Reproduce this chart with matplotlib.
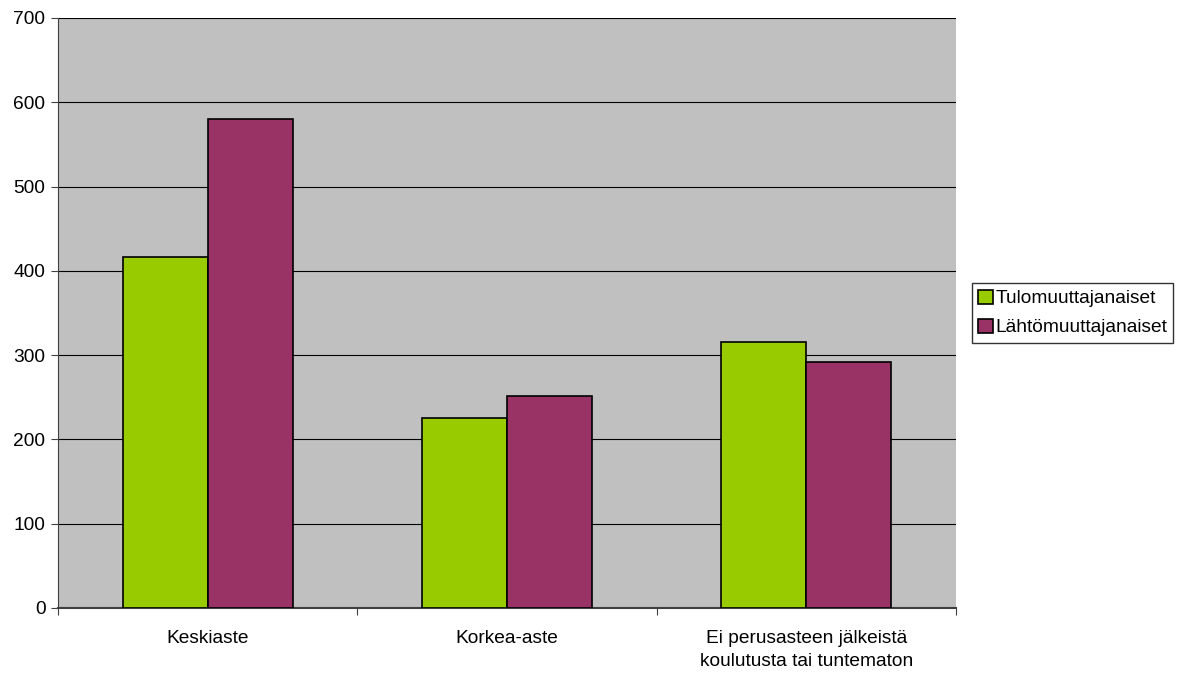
import matplotlib
matplotlib.use("Agg")
import matplotlib.pyplot as plt
import numpy as np

categories = ["Keskiaste", "Korkea-aste", "Ei perusasteen jälkeistä\nkoulutusta tai tuntematon"]
series_names = ["Tulomuuttajanaiset", "Lähtömuuttajanaiset"]
tulo = [417, 225, 316]
lahto = [580, 252, 292]
colors = ["#99CC00", "#993366"]
yticks = [0, 100, 200, 300, 400, 500, 600, 700]

plt.rcParams['font.family'] = ['Liberation Sans', 'DejaVu Sans']
FS = 13.8

fig = plt.figure(figsize=(11.77, 6.74), dpi=100)
ax = fig.add_axes([58/1177, 66/674, 898/1177, 590/674])
ax.set_facecolor("#C0C0C0")

x = np.arange(len(categories))
w = 0.284
ax.bar(x - w/2, tulo, w, color=colors[0], edgecolor="black", linewidth=1.2, label=series_names[0], zorder=3)
ax.bar(x + w/2, lahto, w, color=colors[1], edgecolor="black", linewidth=1.2, label=series_names[1], zorder=3)

ax.set_xlim(-0.5, 2.5)
ax.set_ylim(0, 700)
ax.set_yticks(yticks)
ax.set_yticklabels([str(v) for v in yticks], fontsize=FS)
ax.yaxis.grid(True, color="black", linewidth=0.8, zorder=1)
ax.set_axisbelow(True)

ax.set_xticks([-0.5, 0.5, 1.5, 2.5])
ax.set_xticklabels([])
ax.set_xticks(x, minor=True)
ax.set_xticklabels(categories, minor=True, fontsize=FS, linespacing=1.45)
ax.tick_params(axis='x', which='minor', length=0, pad=16)
ax.tick_params(axis='x', which='major', length=5, direction='out', color="#404040")
ax.tick_params(axis='y', length=5, direction='out', color="#404040", pad=4)

for s in ["top", "right"]:
    ax.spines[s].set_visible(False)
ax.spines["left"].set_color("#404040")
ax.spines["bottom"].set_color("#404040")
ax.spines["bottom"].set_linewidth(1.5)

leg = fig.legend(loc="center left", bbox_to_anchor=(972/1177, 1 - 313/674), fontsize=FS,
                 frameon=True, fancybox=False, edgecolor="black", borderpad=0.32,
                 handlelength=0.75, handleheight=0.75, handletextpad=0.15, labelspacing=0.6,
                 borderaxespad=0)
leg.get_frame().set_linewidth(1.0)

fig.savefig("out.png", dpi=100, facecolor="white")
